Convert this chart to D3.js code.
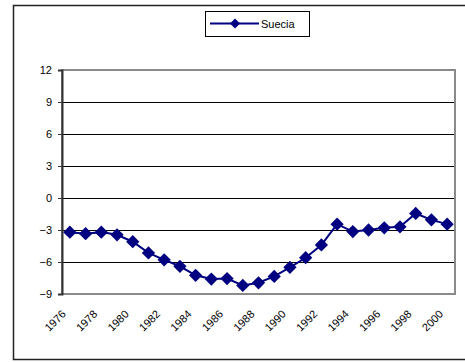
<!DOCTYPE html>
<html>
<head>
<meta charset="utf-8">
<script src="https://cdn.jsdelivr.net/npm/d3@7"></script>
<style>
  html, body { margin: 0; padding: 0; background: #fff; }
  svg { display: block; font-family: "Liberation Sans", Arial, sans-serif; }
</style>
</head>
<body>
<svg id="chart" width="465" height="362"></svg>
<script>
// Series: Suecia, 1976–2000
const years = [1976, 1977, 1978, 1979, 1980, 1981, 1982, 1983, 1984, 1985, 1986, 1987, 1988,
               1989, 1990, 1991, 1992, 1993, 1994, 1995, 1996, 1997, 1998, 1999, 2000];
const suecia = [-3.2, -3.35, -3.2, -3.45, -4.1, -5.15, -5.8, -6.4, -7.25, -7.6, -7.55, -8.2, -7.95,
                -7.35, -6.5, -5.6, -4.4, -2.45, -3.15, -3.0, -2.8, -2.7, -1.45, -2.05, -2.45];
const yTicks = [-9, -6, -3, 0, 3, 6, 9, 12];
const xTickLabels = ["1976", "1978", "1980", "1982", "1984", "1986", "1988",
                     "1990", "1992", "1994", "1996", "1998", "2000"];
const seriesName = "Suecia";

const svg = d3.select("#chart");
const navy = "#000080";

// Outer chart frame
svg.append("rect")
  .attr("x", 13.5).attr("y", 5.5).attr("width", 470).attr("height", 354)
  .attr("fill", "#fff").attr("stroke", "#222").attr("stroke-width", 1.5);

const plot = { left: 62, top: 70, right: 455, bottom: 294 };

const x = d3.scaleBand()
  .domain(years)
  .range([plot.left, plot.right])
  .padding(0);

const y = d3.scaleLinear()
  .domain([-9, 12])
  .range([plot.bottom, plot.top]);

// Horizontal gridlines
svg.append("g")
  .selectAll("line")
  .data(yTicks.filter(t => t !== -9 && t !== 12))
  .join("line")
  .attr("x1", plot.left).attr("x2", plot.right)
  .attr("y1", d => Math.round(y(d)) + 0.5).attr("y2", d => Math.round(y(d)) + 0.5)
  .attr("stroke", "#000").attr("stroke-width", 1);

// Plot area border (grey)
svg.append("rect")
  .attr("x", plot.left).attr("y", plot.top)
  .attr("width", plot.right - plot.left).attr("height", plot.bottom - plot.top)
  .attr("fill", "none").attr("stroke", "#8a8a8a").attr("stroke-width", 2);

// Y axis
const yAxis = d3.axisLeft(y).tickValues(yTicks).tickSize(4).tickPadding(6)
  .tickFormat(d3.format("d"));
const gy = svg.append("g")
  .attr("transform", `translate(${plot.left},0)`)
  .call(yAxis);
gy.select(".domain").attr("stroke", "#333").attr("stroke-width", 2);
gy.selectAll(".tick line").attr("stroke", "#333");
gy.selectAll(".tick text")
  .attr("font-size", 11).attr("fill", "#000")
  .attr("font-family", "Liberation Sans, Arial, sans-serif");

// X axis labels (every second year, rotated)
const gx = svg.append("g");
gx.selectAll("text")
  .data(xTickLabels)
  .join("text")
  .attr("transform", d => {
    const cx = x(+d) + x.bandwidth() / 2;
    return `translate(${cx - 6},${plot.bottom + 18}) rotate(-45)`;
  })
  .attr("text-anchor", "end")
  .attr("dy", "0.35em")
  .attr("font-size", 11)
  .attr("fill", "#000")
  .text(d => d);

// Line
const data = years.map((yr, i) => ({ yr, v: suecia[i] }));
const line = d3.line()
  .x(d => x(d.yr) + x.bandwidth() / 2)
  .y(d => y(d.v));

svg.append("path")
  .datum(data)
  .attr("d", line)
  .attr("fill", "none")
  .attr("stroke", navy)
  .attr("stroke-width", 2);

// Diamond markers
const diamond = d3.symbol().type(d3.symbolSquare).size(88);
svg.append("g")
  .selectAll("path")
  .data(data)
  .join("path")
  .attr("d", diamond)
  .attr("transform", d => `translate(${x(d.yr) + x.bandwidth() / 2},${y(d.v)}) rotate(45)`)
  .attr("fill", navy);

// Legend
const lg = svg.append("g");
lg.append("rect")
  .attr("x", 205.5).attr("y", 11.5).attr("width", 104).attr("height", 25)
  .attr("fill", "#fff").attr("stroke", "#000").attr("stroke-width", 1);
lg.append("line")
  .attr("x1", 210).attr("x2", 259).attr("y1", 23.5).attr("y2", 23.5)
  .attr("stroke", navy).attr("stroke-width", 2);
lg.append("path")
  .attr("d", d3.symbol().type(d3.symbolSquare).size(50))
  .attr("transform", "translate(235,23.5) rotate(45)")
  .attr("fill", navy);
lg.append("text")
  .attr("x", 261).attr("y", 24).attr("dy", "0.35em")
  .attr("font-size", 11).attr("fill", "#000")
  .text(seriesName);
</script>
</body>
</html>
